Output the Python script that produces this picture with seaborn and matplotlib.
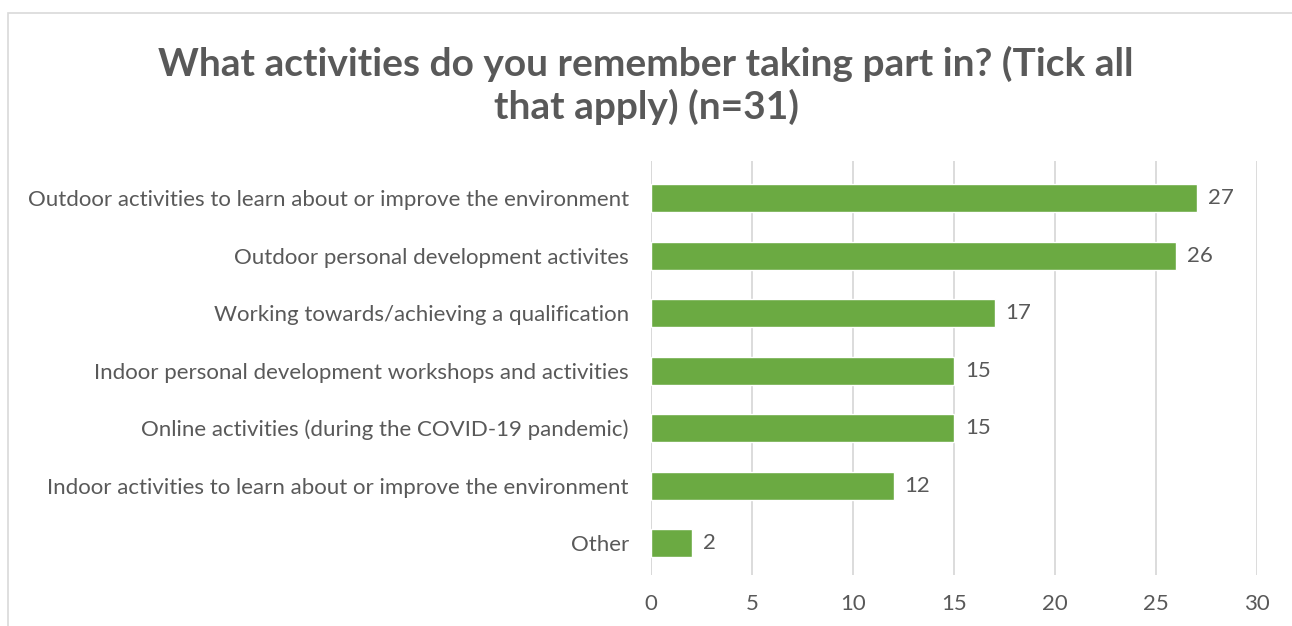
import matplotlib
matplotlib.use("Agg")
import matplotlib.pyplot as plt
import matplotlib.patches as mpatches
import pandas as pd
import seaborn as sns

categories = [
    "Outdoor activities to learn about or improve the environment",
    "Outdoor personal development activites",
    "Working towards/achieving a qualification",
    "Indoor personal development workshops and activities",
    "Online activities (during the COVID-19 pandemic)",
    "Indoor activities to learn about or improve the environment",
    "Other",
]
counts = [27, 26, 17, 15, 15, 12, 2]
x_ticks = [0, 5, 10, 15, 20, 25, 30]

df = pd.DataFrame({"activity": categories, "count": counts})

sns.set_theme(style="white")
plt.rcParams["font.family"] = ["Lato", "DejaVu Sans"]

text_color = "#595959"
grid_color = "#D9D9D9"

fig = plt.figure(figsize=(12.92, 6.26), dpi=100)
ax = fig.add_axes([0.504, 0.082, 0.469, 0.661])

sns.barplot(data=df, x="count", y="activity", color="#6BAA42", width=0.49,
            saturation=1, ax=ax, zorder=3)

ax.set_xlim(0, 30)
ax.set_xticks(x_ticks)
ax.set_ylim(6.55, -0.65)
ax.grid(axis="x", color=grid_color, linewidth=1.3, zorder=0)
for s in ax.spines.values():
    s.set_visible(False)
ax.axvline(0, color=grid_color, linewidth=1.3, zorder=1)

ax.set_xlabel("")
ax.set_ylabel("")
ax.tick_params(axis="x", colors=text_color, labelsize=16, length=0, pad=14)
ax.tick_params(axis="y", colors=text_color, labelsize=16, length=0, pad=16)
for lbl in ax.get_xticklabels() + ax.get_yticklabels():
    lbl.set_color(text_color)

for i, v in enumerate(counts):
    ax.text(v + 0.55, i, str(v), va="center", ha="left", fontsize=16,
            color=text_color)

fig.suptitle("What activities do you remember taking part in? (Tick all\nthat apply) (n=31)",
             x=0.5, y=0.927, fontsize=28, fontweight="bold", color=text_color,
             linespacing=1.22)

# chart frame
fig.patches.append(mpatches.Rectangle((0.006, -0.1), 1.1, 1.08, transform=fig.transFigure,
                                      fill=False, edgecolor=grid_color, linewidth=1.2))

fig.savefig("out.png", dpi=100, facecolor="white")
